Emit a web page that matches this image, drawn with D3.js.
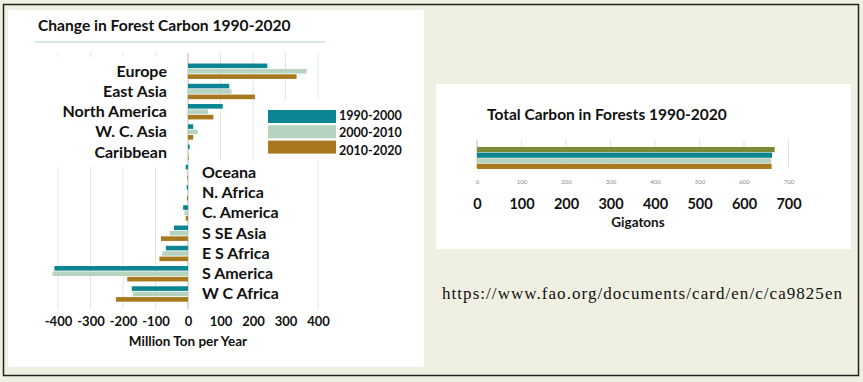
<!DOCTYPE html>
<html>
<head>
<meta charset="utf-8">
<script src="https://cdn.jsdelivr.net/npm/d3@7"></script>
<style>
  body { margin: 0; background: #f0f0e2; }
  svg { display: block; }
  .lbl { font-family: Lato, "Open Sans", sans-serif; font-weight: bold; fill: #111; }
</style>
</head>
<body>
<svg id="chart" width="863" height="382"></svg>
<script>
// left chart data: change in forest carbon, million ton per year
const regions = ["Europe", "East Asia", "North America", "W. C. Asia", "Caribbean", "Oceana",
                 "N. Africa", "C. America", "S SE Asia", "E S Africa", "S America", "W C Africa"];
const change1990 = [244, 127, 107, 16, 5, -7, -4, -15, -43, -68, -411, -173];
const change2000 = [365, 134, 62, 30, 1, -1, -1, -11, -57, -79, -417, -170];
const change2010 = [334, 206, 78, 16, 2, -2, -3, -7, -83, -88, -187, -222];
const periods = ["1990-2000", "2000-2010", "2010-2020"];
const changeTicks = [-400, -300, -200, -100, 0, 100, 200, 300, 400];

// right chart data: total carbon in forests, gigatons
const totalYears = ["2020", "1990", "2000", "2010"];
const totalCarbon = [669, 663, 661, 662];
const totalTicks = [0, 100, 200, 300, 400, 500, 600, 700];

const teal = "#0b8591", pale = "#b6d3bf", brown = "#a8781f", olive = "#7c8a37";
const periodColors = [teal, pale, brown];
const plain = d => String(d);   // keep ascii hyphen for negatives

const svg = d3.select("#chart");

// page background and frame
svg.append("rect").attr("x", 0).attr("y", 0).attr("width", 863).attr("height", 382).attr("fill", "#f0f0e2");
svg.append("rect").attr("x", 3.5).attr("y", 4.5).attr("width", 855).attr("height", 371)
    .attr("fill", "none").attr("stroke", "#222").attr("stroke-width", 1.5);

// ---------- left chart ----------
svg.append("rect").attr("x", 8).attr("y", 10).attr("width", 416).attr("height", 357).attr("fill", "#fff");

svg.append("text").attr("class", "lbl").attr("x", 38).attr("y", 31)
    .style("font-size", "15.6px").text("Change in Forest Carbon 1990-2020");
svg.append("line").attr("x1", 35).attr("x2", 325).attr("y1", 42).attr("y2", 42)
    .attr("stroke", "#c8dedd").attr("stroke-width", 1.5);

const x = d3.scaleLinear().domain([-400, 400]).range([58, 318]);
const y = d3.scaleBand().domain(regions).range([61, 304]).paddingInner(0.2).paddingOuter(0.1);
const ySub = d3.scaleBand().domain(periods).range([0, y.bandwidth()]);

// gridlines
svg.append("g").selectAll("line").data(changeTicks).join("line")
    .attr("x1", d => x(d)).attr("x2", d => x(d))
    .attr("y1", 53).attr("y2", 309)
    .attr("stroke", d => d === 0 ? "#bbb" : "#e4e4e4").attr("stroke-width", 1);

// white label boxes laid over the grid
svg.append("rect").attr("x", 15).attr("y", 57).attr("width", x(0) - 17).attr("height", 110).attr("fill", "#fff");
svg.append("rect").attr("x", x(0) + 2).attr("y", 161).attr("width", 126).attr("height", 150).attr("fill", "#fff");
svg.append("rect").attr("x", 262).attr("y", 99).attr("width", 80).attr("height", 62).attr("fill", "#fff");

const rows = regions.map((r, i) => ({ region: r, vals: [change1990[i], change2000[i], change2010[i]] }));

const grp = svg.append("g").selectAll("g").data(rows).join("g")
    .attr("transform", d => `translate(0,${y(d.region)})`);
grp.selectAll("rect").data(d => d.vals.map((v, k) => ({ v, p: periods[k], c: periodColors[k] }))).join("rect")
    .attr("x", d => x(Math.min(0, d.v)))
    .attr("width", d => Math.abs(x(d.v) - x(0)))
    .attr("y", d => ySub(d.p) + 0.5)
    .attr("height", ySub.bandwidth() - 0.8)
    .attr("fill", d => d.c);

// category labels: positives on the left, negatives on the right
svg.append("g").selectAll("text").data(rows).join("text")
    .attr("class", "lbl")
    .style("font-size", "16px")
    .attr("x", d => d3.sum(d.vals) > 0 ? 167 : 202)
    .attr("text-anchor", d => d3.sum(d.vals) > 0 ? "end" : "start")
    .attr("y", d => y(d.region) + y.bandwidth() / 2)
    .attr("dy", "0.35em")
    .text(d => d.region);

// legend
const leg = svg.append("g").attr("transform", "translate(268,110)");
leg.selectAll("rect").data(periods).join("rect")
    .attr("x", 0).attr("y", (d, i) => i * 15.3).attr("width", 68).attr("height", 13)
    .attr("fill", (d, i) => periodColors[i]);
leg.selectAll("text").data(periods).join("text")
    .attr("class", "lbl").style("font-size", "12.5px")
    .attr("x", 71).attr("y", (d, i) => i * 17.5 + 5.5).attr("dy", "0.35em")
    .text(d => d);

// x axis
const xAxis = svg.append("g").attr("transform", "translate(0,311)")
    .call(d3.axisBottom(x).tickValues(changeTicks).tickFormat(plain).tickSize(0).tickPadding(6));
xAxis.select(".domain").remove();
xAxis.selectAll("text").attr("class", "lbl").style("font-size", "13px");
svg.append("text").attr("class", "lbl").attr("x", 188).attr("y", 346)
    .attr("text-anchor", "middle").style("font-size", "13.5px").text("Million Ton per Year");

// ---------- right chart ----------
svg.append("rect").attr("x", 436).attr("y", 84).attr("width", 415).attr("height", 165).attr("fill", "#fff");
svg.append("text").attr("class", "lbl").attr("x", 487).attr("y", 120)
    .style("font-size", "15.5px").text("Total Carbon in Forests 1990-2020");

const x2 = d3.scaleLinear().domain([0, 700]).range([477, 788.5]);
const y2 = d3.scaleBand().domain(totalYears).range([147, 169]).paddingInner(0.08);
const totalColors = [olive, teal, pale, brown];

svg.append("g").selectAll("line").data(totalTicks).join("line")
    .attr("x1", d => x2(d)).attr("x2", d => x2(d))
    .attr("y1", 140).attr("y2", 168)
    .attr("stroke", d => d === 0 ? "#bbb" : "#e2e2e2");

svg.append("g").selectAll("rect").data(totalYears).join("rect")
    .attr("x", x2(0))
    .attr("y", d => y2(d))
    .attr("width", (d, i) => x2(totalCarbon[i]) - x2(0))
    .attr("height", y2.bandwidth())
    .attr("fill", (d, i) => totalColors[i]);

// small faint tick labels
const small = svg.append("g").attr("transform", "translate(0,180)")
    .call(d3.axisBottom(x2).tickValues(totalTicks).tickFormat(plain).tickSize(0).tickPadding(0));
small.select(".domain").remove();
small.selectAll("text").style("font-size", "6px").attr("fill", "#888").style("font-family", "Lato, sans-serif");

// big tick labels
const big = svg.append("g").attr("transform", "translate(0,199)")
    .call(d3.axisBottom(x2).tickValues(totalTicks).tickFormat(plain).tickSize(0).tickPadding(0));
big.select(".domain").remove();
big.selectAll("text").attr("class", "lbl").style("font-size", "14.5px");
svg.append("text").attr("class", "lbl").attr("x", 638).attr("y", 227)
    .attr("text-anchor", "middle").style("font-size", "13.5px").text("Gigatons");

// source
svg.append("text").attr("x", 442).attr("y", 299)
    .attr("textLength", 400).attr("lengthAdjust", "spacing")
    .style("font-family", "'Liberation Serif', 'DejaVu Serif', serif").style("font-size", "17px").attr("fill", "#111")
    .text("https://www.fao.org/documents/card/en/c/ca9825en");
</script>
</body>
</html>
